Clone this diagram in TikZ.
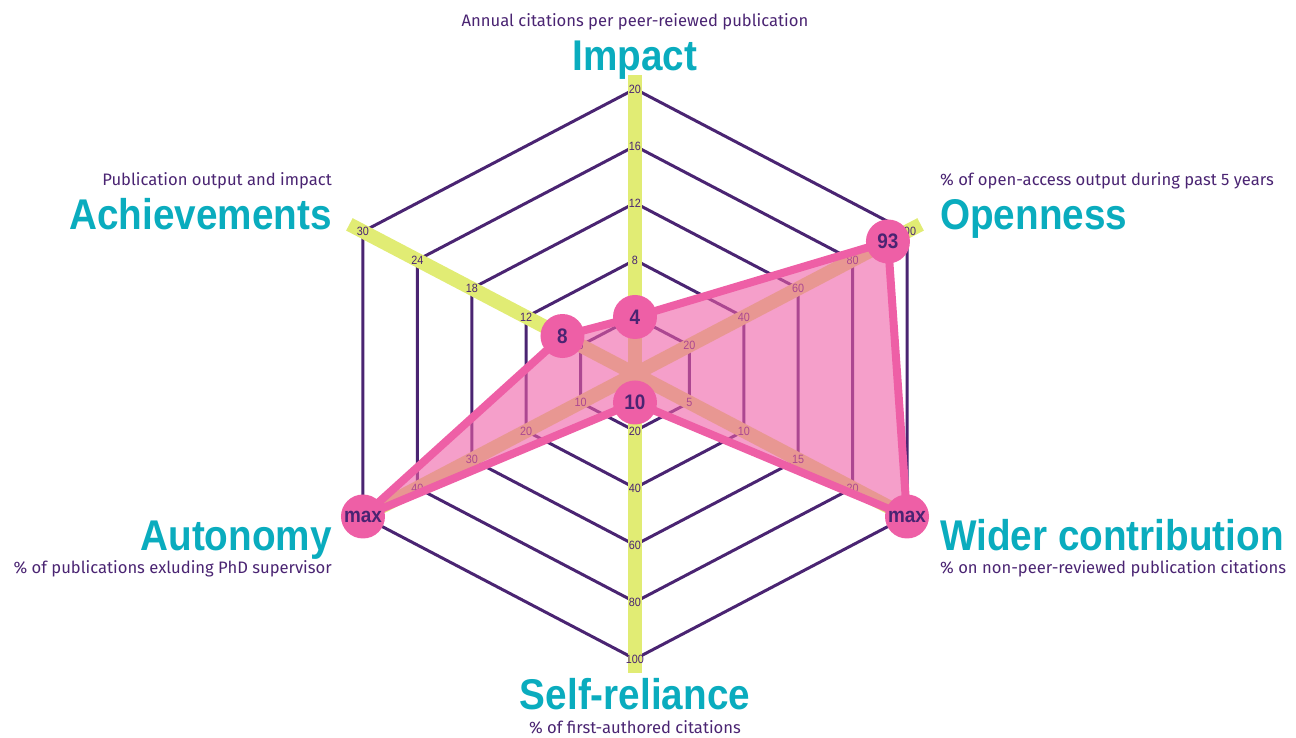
\documentclass[tikz,border=0pt]{standalone}
\usepackage{fontspec}
\setmainfont{Fira Sans}
\newfontfamily\headfont[FakeStretch=0.9]{Liberation Sans}
\usepackage{tikz}

\definecolor{chartteal}{HTML}{0AACBE}
\definecolor{chartpurple}{HTML}{4A2472}
\definecolor{axisyellow}{HTML}{E1EC74}
\definecolor{datapink}{HTML}{EE5FA6}

\tikzset{
  gridline/.style={draw=chartpurple, line width=3pt},
  axisbar/.style={draw=axisyellow, line width=14pt},
  ticklabel/.style={font=\headfont\fontsize{12}{14}\selectfont, text=chartpurple, inner sep=0pt},
  axistitle/.style={font=\headfont\bfseries\fontsize{43}{50}\selectfont, text=chartteal, inner sep=0pt},
  axisnote/.style={font=\fontsize{16.6}{20}\selectfont, text=chartpurple, inner sep=0pt},
  datapoly/.style={draw=datapink, line width=8pt, fill=datapink, fill opacity=0.6, line join=round},
  valuedot/.style={circle, fill=datapink, minimum size=44pt, inner sep=0pt, text=chartpurple,
                   font=\headfont\bfseries\fontsize{21}{24}\selectfont}
}

\begin{document}
\begin{tikzpicture}[x=1pt, y=1pt]
\useasboundingbox (-635,-364) rectangle (661,374);

% radar grid, axes and data
\begin{scope}[x={(54.4pt,28.5pt)}, y={(0pt,57pt)}]
\draw[gridline] (0,1) -- (1,0) -- (1,-1) -- (0,-1) -- (-1,0) -- (-1,1) -- cycle;
\draw[gridline] (0,2) -- (2,0) -- (2,-2) -- (0,-2) -- (-2,0) -- (-2,2) -- cycle;
\draw[gridline] (0,3) -- (3,0) -- (3,-3) -- (0,-3) -- (-3,0) -- (-3,3) -- cycle;
\draw[gridline] (0,4) -- (4,0) -- (4,-4) -- (0,-4) -- (-4,0) -- (-4,4) -- cycle;
\draw[gridline] (0,5) -- (5,0) -- (5,-5) -- (0,-5) -- (-5,0) -- (-5,5) -- cycle;

\coordinate (origin) at (0,0);
\coordinate (endImpact) at (0,5.25);
\coordinate (endOpenness) at (5.25,0);
\coordinate (endWider) at (5.25,-5.25);
\coordinate (endSelf) at (0,-5.25);
\coordinate (endAutonomy) at (-5.25,0);
\coordinate (endAchieve) at (-5.25,5.25);
\draw[axisbar] (origin) -- (endImpact);
\draw[axisbar] (origin) -- (endOpenness);
\draw[axisbar] (origin) -- (endWider);
\draw[axisbar] (origin) -- (endSelf);
\draw[axisbar] (origin) -- (endAutonomy);
\draw[axisbar] (origin) -- (endAchieve);

% tick values
\node[ticklabel] (tImp2) at (0,2) {8};
\node[ticklabel] (tImp3) at (0,3) {12};
\node[ticklabel] (tImp4) at (0,4) {16};
\node[ticklabel] (tImp5) at (0,5) {20};
\node[ticklabel] (tOpe1) at (1,0) {20};
\node[ticklabel] (tOpe2) at (2,0) {40};
\node[ticklabel] (tOpe3) at (3,0) {60};
\node[ticklabel] (tOpe4) at (4,0) {80};
\node[ticklabel] (tOpe5) at (5,0) {100};
\node[ticklabel] (tWid1) at (1,-1) {5};
\node[ticklabel] (tWid2) at (2,-2) {10};
\node[ticklabel] (tWid3) at (3,-3) {15};
\node[ticklabel] (tWid4) at (4,-4) {20};
\node[ticklabel] (tSel1) at (0,-1) {20};
\node[ticklabel] (tSel2) at (0,-2) {40};
\node[ticklabel] (tSel3) at (0,-3) {60};
\node[ticklabel] (tSel4) at (0,-4) {80};
\node[ticklabel] (tSel5) at (0,-5) {100};
\node[ticklabel] (tAut1) at (-1,0) {10};
\node[ticklabel] (tAut2) at (-2,0) {20};
\node[ticklabel] (tAut3) at (-3,0) {30};
\node[ticklabel] (tAut4) at (-4,0) {40};
\node[ticklabel] (tAch1) at (-1,1) {6};
\node[ticklabel] (tAch2) at (-2,2) {12};
\node[ticklabel] (tAch3) at (-3,3) {18};
\node[ticklabel] (tAch4) at (-4,4) {24};
\node[ticklabel] (tAch5) at (-5,5) {30};

% scores
\coordinate (vImpact) at (0,1);
\coordinate (vOpenness) at (4.65,0);
\coordinate (vWider) at (5,-5);
\coordinate (vSelf) at (0,-0.5);
\coordinate (vAutonomy) at (-5,0);
\coordinate (vAchieve) at (-1.333,1.333);
\draw[datapoly] (vImpact) -- (vOpenness) -- (vWider) -- (vSelf) -- (vAutonomy) -- (vAchieve) -- cycle;
\node[valuedot] (mImpact) at (vImpact) {4};
\node[valuedot] (mOpenness) at (vOpenness) {93};
\node[valuedot] (mWider) at (vWider) {max};
\node[valuedot] (mSelf) at (vSelf) {10};
\node[valuedot] (mAutonomy) at (vAutonomy) {max};
\node[valuedot] (mAchieve) at (vAchieve) {8};
\end{scope}

% axis names
\node[axistitle, anchor=base] (hImpact) at (0,303) {Impact};
\node[axisnote, anchor=base] (nImpact) at (0,347) {Annual citations per peer-reiewed publication};
\node[axistitle, anchor=base west] (hOpenness) at (305,144) {Openness};
\node[axisnote, anchor=base west] (nOpenness) at (305,188) {\% of open-access output during past 5 years};
\node[axistitle, anchor=base west] (hWider) at (305,-177) {Wider contribution};
\node[axisnote, anchor=base west] (nWider) at (305,-200) {\% on non-peer-reviewed publication citations};
\node[axistitle, anchor=base] (hSelf) at (0,-335) {Self-reliance};
\node[axisnote, anchor=base] (nSelf) at (0,-359) {\% of first-authored citations};
\node[axistitle, anchor=base east] (hAutonomy) at (-303,-177) {Autonomy};
\node[axisnote, anchor=base east] (nAutonomy) at (-303,-200) {\% of publications exluding PhD supervisor};
\node[axistitle, anchor=base east] (hAchieve) at (-303,144) {Achievements};
\node[axisnote, anchor=base east] (nAchieve) at (-303,188) {Publication output and impact};
\end{tikzpicture}
\end{document}
